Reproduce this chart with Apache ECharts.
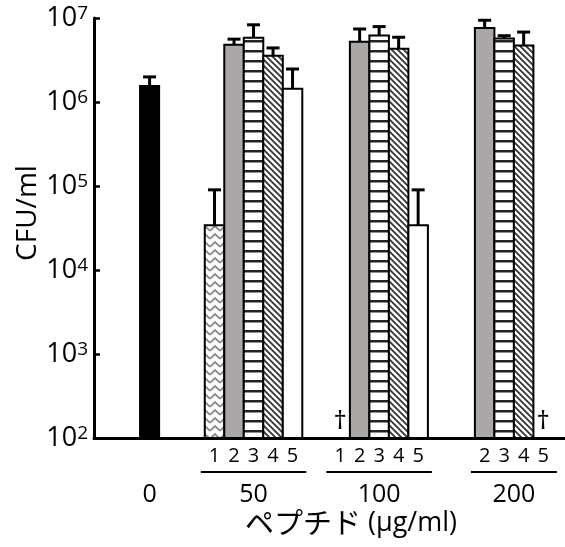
<!DOCTYPE html>
<html>
<head>
<meta charset="utf-8">
<script src="https://cdn.jsdelivr.net/npm/echarts@6/dist/echarts.min.js"></script>
<style>
  html, body { margin: 0; padding: 0; background: #fff; }
  #main { width: 565px; height: 547px; }
</style>
</head>
<body>
<div id="main"></div>
<script>
// data (CFU/ml), upper = top of error bar
const groups = ['0', '50', '100', '200'];
const peptides = ['1', '2', '3', '4', '5'];

const controlMean = [1.59e6];
const controlUpper = [1.99e6];

const mean50 = [3.4e4, 4.8e6, 5.8e6, 3.56e6, 1.44e6];
const upper50 = [9.0e4, 5.6e6, 8.3e6, 4.4e6, 2.47e6];

const mean100 = [null, 5.2e6, 6.2e6, 4.3e6, 3.4e4];
const upper100 = [null, 7.4e6, 7.9e6, 5.9e6, 9.0e4];

const mean200 = [null, 7.6e6, 5.7e6, 4.7e6, null];
const upper200 = [null, 9.4e6, 6.15e6, 6.8e6, null];

const labeled50 = ['1', '2', '3', '4', '5'];
const labeled100 = ['1', '2', '3', '4', '5'];
const labeled200 = ['2', '3', '4', '5'];
const killed100 = ['1'];
const killed200 = ['5'];

// layout: group centres on the hidden x axis (one unit = one bar slot)
const groupCenter = [2.85, 8.18, 14.62, 21.03];

function makePattern(w, h, draw) {
    const c = document.createElement('canvas');
    c.width = w; c.height = h;
    const ctx = c.getContext('2d');
    ctx.fillStyle = '#fff';
    ctx.fillRect(0, 0, w, h);
    draw(ctx, w, h);
    return { image: c, repeat: 'repeat' };
}

const fills = [
    makePattern(10, 8, (ctx, w, h) => {
        ctx.strokeStyle = '#8c8c8c';
        ctx.lineWidth = 1.8;
        ctx.beginPath();
        ctx.moveTo(0, h * 0.85);
        ctx.lineTo(w / 2, h * 0.25);
        ctx.lineTo(w, h * 0.85);
        ctx.stroke();
    }),
    '#aba7a7',
    makePattern(4, 10, (ctx, w, h) => {
        ctx.fillStyle = '#222';
        ctx.fillRect(0, 0, w, 2.5);
    }),
    makePattern(6, 6, (ctx, w, h) => {
        ctx.strokeStyle = '#333';
        ctx.lineWidth = 1.8;
        ctx.beginPath();
        ctx.moveTo(-1, -1); ctx.lineTo(w + 1, h + 1);
        ctx.moveTo(-1, h - 1); ctx.lineTo(1, h + 1);
        ctx.moveTo(w - 1, -1); ctx.lineTo(w + 1, 1);
        ctx.stroke();
    }),
    '#fff',
    '#000'
];

const barData = [];
const meansByGroup = [null, mean50, mean100, mean200];
const uppersByGroup = [null, upper50, upper100, upper200];
for (let g = 1; g < groups.length; g++) {
    peptides.forEach((p, i) => {
        const m = meansByGroup[g][i];
        if (m != null) {
            barData.push([groupCenter[g] + (i - 2), m, uppersByGroup[g][i], i]);
        }
    });
}
barData.push([groupCenter[0], controlMean[0], controlUpper[0], 5]);

const labeledByGroup = [null, labeled50, labeled100, labeled200];
const killedByGroup = [null, [], killed100, killed200];
const slotData = [];
const groupData = [[groupCenter[0], groups[0], null, null]];
for (let g = 1; g < groups.length; g++) {
    const idx = labeledByGroup[g].map(n => peptides.indexOf(n));
    idx.forEach(i => {
        const name = peptides[i];
        slotData.push([groupCenter[g] + (i - 2), i, killedByGroup[g].indexOf(name) >= 0 ? 1 : 0]);
    });
    const x0 = groupCenter[g] + (Math.min(...idx) - 2) - 0.5;
    const x1 = groupCenter[g] + (Math.max(...idx) - 2) + 0.5;
    groupData.push([(x0 + x1) / 2, g, x0, x1]);
}

function renderBar(params, api) {
    const x = api.value(0);
    const p = api.value(3);
    const w = p === 5 ? 1.08 : 1;
    const tl = api.coord([x - w / 2, api.value(1)]);
    const br = api.coord([x + w / 2, 100]);
    const cx = api.coord([x, 100])[0];
    const ey = api.coord([x, api.value(2)])[1];
    const cap = 6.5;
    return {
        type: 'group',
        children: [
            { type: 'line', shape: { x1: cx, y1: tl[1], x2: cx, y2: ey }, style: { stroke: '#000', lineWidth: 3 } },
            { type: 'line', shape: { x1: cx - cap, y1: ey, x2: cx + cap, y2: ey }, style: { stroke: '#000', lineWidth: 3 } },
            {
                type: 'rect',
                shape: { x: tl[0], y: tl[1], width: br[0] - tl[0], height: br[1] - tl[1] },
                style: { fill: fills[p], stroke: '#000', lineWidth: p === 5 ? 0 : 2 }
            }
        ]
    };
}

function renderSlot(params, api) {
    const pt = api.coord([api.value(0), 100]);
    const children = [{
        type: 'text', x: pt[0], y: pt[1] + 18,
        style: { text: peptides[api.value(1)], fill: '#000', fontSize: 20, fontFamily: 'Open Sans', align: 'center', verticalAlign: 'middle' }
    }];
    if (api.value(2) === 1) {
        children.push({
            type: 'text', x: pt[0], y: pt[1] - 3,
            style: { text: '†', fill: '#000', fontSize: 26, fontFamily: 'Noto Sans', align: 'center', verticalAlign: 'bottom' }
        });
    }
    return { type: 'group', children: children };
}

function renderGroup(params, api) {
    const pt = api.coord([api.value(0), 100]);
    const children = [{
        type: 'text', x: pt[0], y: pt[1] + 57,
        style: { text: groups[api.value(1) || 0], fill: '#000', fontSize: 25, fontFamily: 'Open Sans', align: 'center', verticalAlign: 'middle' }
    }];
    if (params.dataIndex > 0) {
        const a = api.coord([api.value(2), 100])[0] - 4;
        const b = api.coord([api.value(3), 100])[0] + 4;
        children.push({ type: 'line', shape: { x1: a, y1: pt[1] + 34, x2: b, y2: pt[1] + 34 }, style: { stroke: '#000', lineWidth: 2 } });
    }
    return { type: 'group', children: children };
}

var chart = echarts.init(document.getElementById('main'), null, { renderer: 'canvas' });

var option = {
    animation: false,
    backgroundColor: '#fff',
    grid: { left: 94, right: 0, top: 18, bottom: 109 },
    xAxis: {
        type: 'value', min: 0, max: 24.15,
        axisLine: { show: true, onZero: false, lineStyle: { color: '#000', width: 3 } },
        axisTick: { show: false }, axisLabel: { show: false }, splitLine: { show: false }
    },
    yAxis: {
        type: 'log', logBase: 10, min: 100, max: 1e7,
        axisLine: { show: true, lineStyle: { color: '#000', width: 3 } },
        axisTick: { show: true, inside: true, length: 6, lineStyle: { color: '#000', width: 2.5 } },
        splitLine: { show: false },
        axisLabel: {
            margin: 6,
            formatter: v => '{a|10}{b|' + Math.round(Math.log10(v)) + '}',
            rich: {
                a: { fontSize: 27, fontFamily: 'Open Sans', color: '#000' },
                b: { fontSize: 19, fontFamily: 'Open Sans', color: '#000', verticalAlign: 'top' }
            }
        }
    },
    graphic: [
        {
            type: 'text', x: 28, y: 213, rotation: Math.PI / 2,
            style: { text: 'CFU/ml', fill: '#000', fontSize: 28, fontFamily: 'Open Sans', align: 'center', verticalAlign: 'middle' }
        },
        {
            type: 'text', x: 351, y: 523,
            style: {
                text: '{ja|ペプチド}{en| (μg/ml)}', align: 'center', verticalAlign: 'middle',
                rich: {
                    ja: { fontSize: 29, fontFamily: 'Noto Sans CJK JP', fill: '#000' },
                    en: { fontSize: 27, fontFamily: 'Open Sans', fill: '#000' }
                }
            }
        }
    ],
    series: [
        { type: 'custom', renderItem: renderBar, data: barData, clip: false, z: 3 },
        { type: 'custom', renderItem: renderSlot, data: slotData, clip: false, z: 4 },
        { type: 'custom', renderItem: renderGroup, data: groupData, clip: false, z: 4 }
    ]
};

chart.setOption(option);
</script>
</body>
</html>
